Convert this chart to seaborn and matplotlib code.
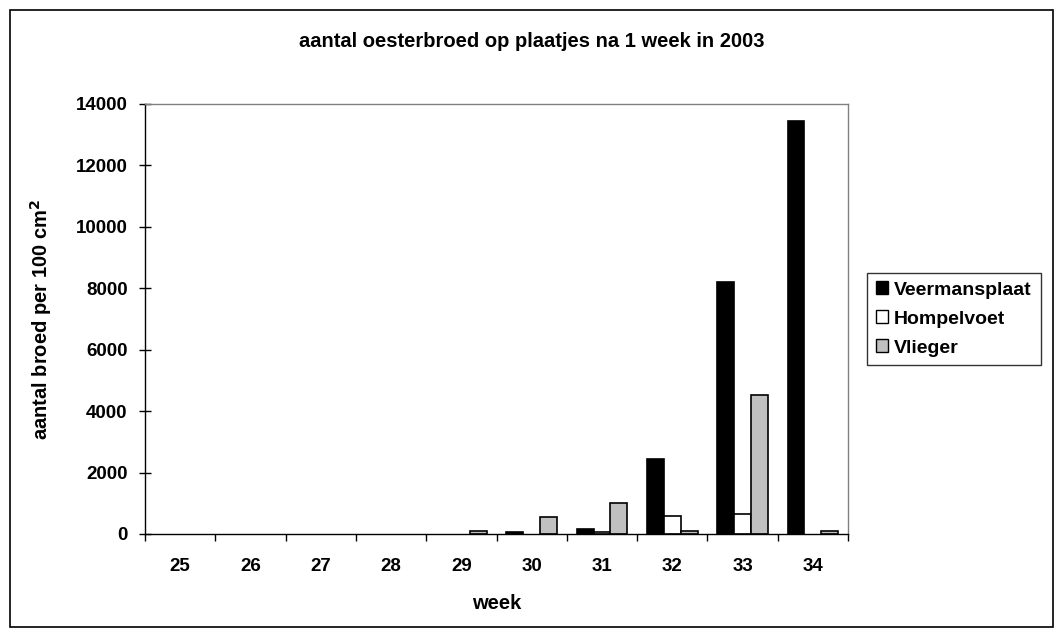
import pandas as pd
import matplotlib
matplotlib.use("Agg")
import matplotlib.pyplot as plt
import seaborn as sns
from matplotlib.patches import Rectangle
from matplotlib.ticker import FixedLocator

weeks = ["25", "26", "27", "28", "29", "30", "31", "32", "33", "34"]
veermansplaat = [0, 0, 0, 0, 0, 50, 150, 2450, 8200, 13450]
hompelvoet = [0, 0, 0, 0, 0, 0, 50, 580, 640, 0]
vlieger = [0, 0, 0, 0, 100, 560, 1000, 100, 4520, 100]
series = ["Veermansplaat", "Hompelvoet", "Vlieger"]
colors = ["#000000", "#FFFFFF", "#C0C0C0"]

df = pd.DataFrame({"week": weeks, "Veermansplaat": veermansplaat,
                   "Hompelvoet": hompelvoet, "Vlieger": vlieger})
long_df = df.melt(id_vars="week", var_name="locatie", value_name="aantal")

sns.set_style("white")
plt.rcParams["font.family"] = ["Liberation Sans", "DejaVu Sans"]
plt.rcParams["font.weight"] = "bold"
plt.rcParams["text.color"] = "black"
plt.rcParams["axes.labelcolor"] = "black"
plt.rcParams["xtick.color"] = "black"
plt.rcParams["ytick.color"] = "black"

fig = plt.figure(figsize=(10.64, 6.37), dpi=100)
ax = fig.add_axes([145 / 1064, 103 / 637, 703 / 1064, 430 / 637])

sns.barplot(data=long_df, x="week", y="aantal", hue="locatie", hue_order=series,
            palette=colors, edgecolor="black", linewidth=1.2, width=0.72,
            saturation=1, ax=ax)

# zero-height bars are not drawn in the original
for p in ax.patches:
    if p.get_height() == 0:
        p.set_linewidth(0)

ax.set_ylim(0, 14000)
ax.set_xlim(-0.5, len(weeks) - 0.5)
ax.set_yticks(range(0, 14001, 2000))
ax.tick_params(axis="y", direction="inout", length=9, width=1, labelsize=13.5, pad=8, left=True)
ax.tick_params(axis="x", which="major", length=0, labelsize=13.5, pad=17)
ax.xaxis.set_minor_locator(FixedLocator([i + 0.5 for i in range(-1, len(weeks))]))
ax.tick_params(axis="x", which="minor", direction="out", length=5, width=1, bottom=True)
for lab in ax.get_xticklabels() + ax.get_yticklabels():
    lab.set_fontweight("bold")

for side in ["top", "right"]:
    ax.spines[side].set_color("#808080")
    ax.spines[side].set_linewidth(1)
for side in ["left", "bottom"]:
    ax.spines[side].set_color("black")
    ax.spines[side].set_linewidth(1)

ax.set_xlabel("week", fontsize=14.5, fontweight="bold", labelpad=14)
ax.set_ylabel("aantal broed per 100 cm$^\\mathbf{2}$", fontsize=14.5, fontweight="bold", labelpad=16)

fig.text(0.5, 0.935, "aantal oesterbroed op plaatjes na 1 week in 2003",
         ha="center", va="center", fontsize=14.5, fontweight="bold")

handles, labels = ax.get_legend_handles_labels()
leg = ax.legend(handles, labels, loc="center left", bbox_to_anchor=(1.027, 0.5),
                frameon=True, fancybox=False, edgecolor="black", fontsize=14,
                handlelength=0.65, handleheight=0.65, handletextpad=0.3,
                borderpad=0.45, labelspacing=0.6, borderaxespad=0)
leg.get_frame().set_linewidth(1)
for h, c in zip(leg.legend_handles, colors):
    h.set_facecolor(c)
    h.set_edgecolor("black")
    h.set_linewidth(1)
for t in leg.get_texts():
    t.set_fontweight("bold")

fig.patches.append(Rectangle((10 / 1064, 10 / 637), 1043 / 1064, 617 / 637,
                             transform=fig.transFigure, fill=False,
                             edgecolor="black", linewidth=1.2))

fig.savefig("out.png", dpi=100)
